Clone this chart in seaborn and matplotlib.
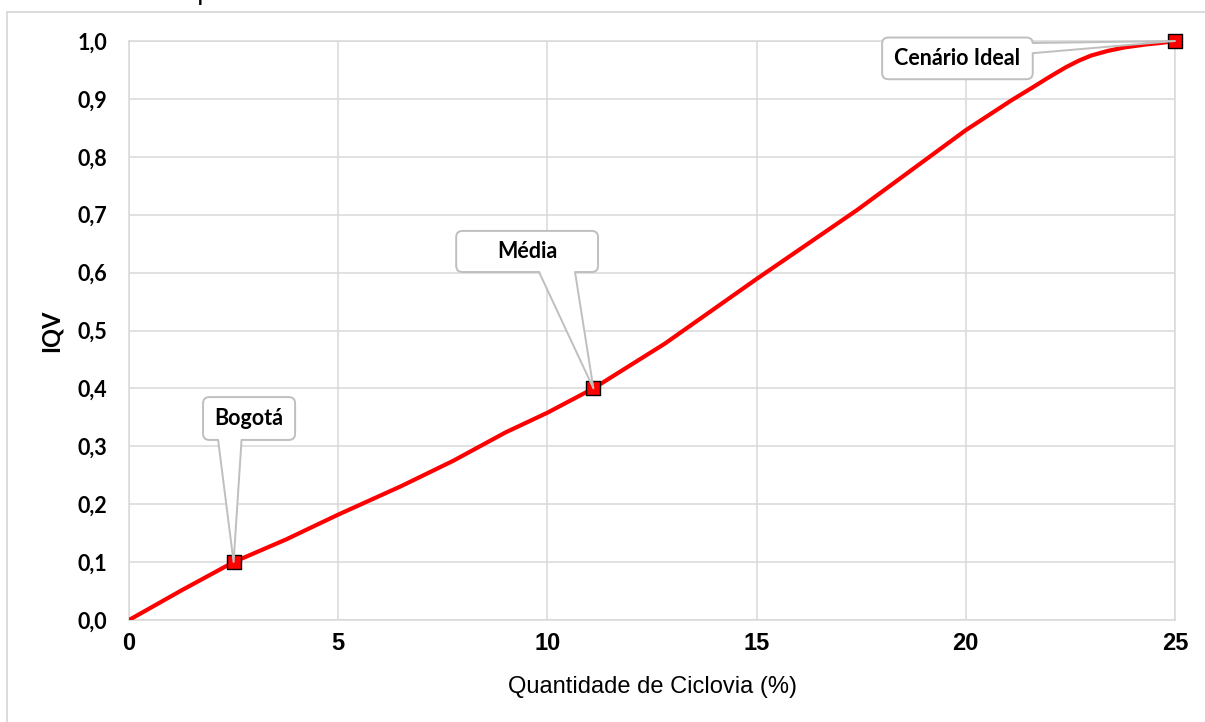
import numpy as np
import pandas as pd
import matplotlib
matplotlib.use("Agg")
import matplotlib.pyplot as plt
import seaborn as sns
from matplotlib.patches import FancyBboxPatch, Polygon
from matplotlib.lines import Line2D
from matplotlib.font_manager import FontProperties

# ---- data ----
curve_x = [0, 1.25, 2.5, 3.75, 5, 6.5, 7.75, 9, 10, 11.1, 12.8, 15, 17.4, 20, 21.1, 21.6,
           22, 22.4, 22.7, 23.0, 23.4, 23.8, 24.3, 24.7, 25]
curve_y = [0, 0.051, 0.1, 0.139, 0.182, 0.231, 0.275, 0.324, 0.358, 0.4, 0.477, 0.589, 0.708,
           0.846, 0.898, 0.920, 0.938, 0.955, 0.966, 0.975, 0.983, 0.989, 0.994, 0.997, 1.0]

point_names = ["Bogotá", "Média", "Cenário Ideal"]
point_x = [2.5, 11.1, 25]
point_y = [0.1, 0.4, 1.0]

x_ticks = [0, 5, 10, 15, 20, 25]
y_ticks = [0.0, 0.1, 0.2, 0.3, 0.4, 0.5, 0.6, 0.7, 0.8, 0.9, 1.0]
y_tick_labels = ["0,0", "0,1", "0,2", "0,3", "0,4", "0,5", "0,6", "0,7", "0,8", "0,9", "1,0"]

x_label = "Quantidade de Ciclovia (%)"
y_label = "IQV"
cut_title = "quantidade de ciclovias"

curve_df = pd.DataFrame({"x": curve_x, "y": curve_y})
pts_df = pd.DataFrame({"x": point_x, "y": point_y, "name": point_names})

# ---- style ----
sns.set_theme(style="whitegrid")
plt.rcParams["font.family"] = ["Liberation Sans", "DejaVu Sans"]
GRID = "#d9d9d9"
EDGE = "#bfbfbf"
bold_lato = FontProperties(family=["Lato", "DejaVu Sans"], weight="bold", size=15.5)

W, H = 1205, 722
fig = plt.figure(figsize=(W / 100, H / 100), dpi=100)
ax = fig.add_axes([129 / W, (H - 620) / H, (1175 - 129) / W, (620 - 41) / H])
ax.set_facecolor("white")

sns.lineplot(data=curve_df, x="x", y="y", ax=ax, color="#ff0000", linewidth=3.0,
             sort=False, estimator=None, zorder=3)
line = ax.get_lines()[-1]
line.set_solid_joinstyle("round")
line.set_solid_capstyle("round")
sns.scatterplot(data=pts_df, x="x", y="y", ax=ax, marker="s", s=105, color="#ff0000",
                edgecolor="black", linewidth=1.0, zorder=4, clip_on=False)

ax.set_xlim(0, 25)
ax.set_ylim(0, 1)
ax.set_xticks(x_ticks)
ax.set_xticklabels([str(t) for t in x_ticks])
for lbl in ax.get_xticklabels():
    lbl.set_fontproperties(FontProperties(family=["Liberation Sans"], weight="bold", size=17))
    lbl.set_color("black")
ax.set_yticks(y_ticks)
ax.set_yticklabels(y_tick_labels)
for lbl in ax.get_yticklabels():
    lbl.set_fontproperties(bold_lato)
    lbl.set_color("black")
ax.tick_params(axis="x", length=0, pad=9, colors="black")
ax.tick_params(axis="y", length=0, pad=15.8, colors="black")
ax.grid(True, color=GRID, linewidth=1.1)
for sp in ax.spines.values():
    sp.set_visible(True)
    sp.set_color(GRID)
    sp.set_linewidth(1.1)

ax.set_xlabel(x_label)
ax.xaxis.label.set_fontproperties(FontProperties(family=["Liberation Sans"], size=17))
ax.xaxis.label.set_color("black")
ax.xaxis.label.set_va("baseline")
ax.xaxis.set_label_coords(0.5, -0.126)
ax.set_ylabel(y_label)
ax.yaxis.label.set_fontproperties(FontProperties(family=["Lato", "DejaVu Sans"], weight="bold", size=17))
ax.yaxis.label.set_color("black")
ax.yaxis.set_label_coords(-0.0631, 0.5)

# ---- callouts ----
asp = ((1175 - 129) / 25) / (620 - 41)

def callout(text, box, b1, b2, tip, side="bottom"):
    x0, y0, x1, y1 = box
    patch = FancyBboxPatch((x0, y0), x1 - x0, y1 - y0,
                           boxstyle="round,pad=0,rounding_size=0.15",
                           mutation_aspect=asp, fc="white", ec=EDGE, lw=1.4,
                           zorder=5, clip_on=False)
    ax.add_patch(patch)
    if side == "bottom":
        i1 = (b1[0], b1[1] + 0.004)
        i2 = (b2[0], b2[1] + 0.004)
    else:
        i1 = (b1[0] - 0.06, b1[1])
        i2 = (b2[0] - 0.06, b2[1])
    ax.add_patch(Polygon([i1, tip, i2], closed=True, fc="white", ec="none",
                         zorder=6, clip_on=False))
    ax.add_line(Line2D([b1[0], tip[0], b2[0]], [b1[1], tip[1], b2[1]], color=EDGE,
                       lw=1.4, zorder=6, clip_on=False))
    ax.text((x0 + x1) / 2, (y0 + y1) / 2, text, ha="center", va="center",
            fontproperties=bold_lato, color="black", zorder=7, clip_on=False)

callout(point_names[0], (1.77, 0.311, 3.97, 0.385), (2.13, 0.311), (2.69, 0.311),
        (point_x[0], point_y[0]))
callout(point_names[1], (7.82, 0.601, 11.21, 0.672), (9.80, 0.601), (10.66, 0.601),
        (point_x[1], point_y[1]))
callout(point_names[2], (18.0, 0.934, 21.6, 1.006), (21.6, 0.9965), (21.6, 0.979),
        (point_x[2], point_y[2]), side="right")

# ---- outer frame and cut-off title ----
fig.add_artist(Line2D([7.5 / W, 7.5 / W], [0, (H - 12) / H], color=GRID, lw=1.3,
                      transform=fig.transFigure))
fig.add_artist(Line2D([7.5 / W, 1.0], [(H - 12) / H, (H - 12) / H], color=GRID, lw=1.3,
                      transform=fig.transFigure))
fig.text(188 / W, 1 + 1 / H, cut_title, fontsize=20, family=["Liberation Sans"],
         va="baseline", ha="left", color="black")

fig.savefig("out.png", dpi=100, facecolor="white")
